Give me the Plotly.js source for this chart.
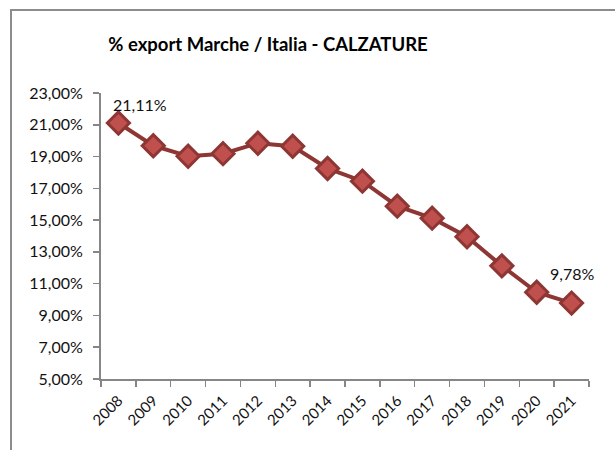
<!DOCTYPE html>
<html>
<head>
<meta charset="utf-8">
<script src="https://cdn.plot.ly/plotly-3.0.1.min.js"></script>
<style>
  html, body { margin: 0; padding: 0; background: #fff; }
  #wrap { position: relative; width: 615px; height: 450px; overflow: hidden; }
  #chart { position: absolute; left: 0; top: 0; width: 615px; height: 450px; }
  #frame { position: absolute; left: 10px; top: 9px; width: 700px; height: 500px;
           border-left: 2px solid #8c8c8c; border-top: 2px solid #8c8c8c; pointer-events: none; }
</style>
</head>
<body>
<div id="wrap">
  <div id="chart"></div>
  <div id="frame"></div>
</div>
<script>
const years = ["2008","2009","2010","2011","2012","2013","2014","2015","2016","2017","2018","2019","2020","2021"];
const shares = [21.11, 19.68, 19.02, 19.18, 19.84, 19.65, 18.25, 17.45, 15.88, 15.12, 13.95, 12.12, 10.46, 9.78];
const yTicks = [5, 7, 9, 11, 13, 15, 17, 19, 21, 23];
const labelled = [0, shares.length - 1];

const fmt = v => v.toFixed(2).replace('.', ',') + '%';

const trace = {
  x: years,
  y: shares,
  type: 'scatter',
  mode: 'lines+markers',
  line: { color: '#8e3634', width: 4 },
  marker: { symbol: 'diamond', size: 17, color: '#c0504d', line: { color: '#8e3634', width: 3 } },
  hoverinfo: 'skip'
};

const annShift = [[22, 19], [0, 30]];
const annotations = labelled.map((i, k) => ({
  x: i, y: shares[i], xref: 'x', yref: 'y',
  text: fmt(shares[i]), showarrow: false,
  xanchor: 'center', yanchor: 'middle',
  xshift: annShift[k][0], yshift: annShift[k][1],
  font: { family: 'Lato, sans-serif', size: 16, color: '#111' }
}));

const layout = {
  width: 615, height: 450,
  margin: { l: 101, r: 26, t: 93, b: 71 },
  paper_bgcolor: '#fff', plot_bgcolor: '#fff',
  separators: ',.',
  showlegend: false,
  title: {
    text: '<b>% export Marche / Italia - CALZATURE</b>',
    x: 268 / 615, xanchor: 'center', xref: 'container',
    y: 1 - 45 / 450, yanchor: 'middle', yref: 'container',
    font: { family: 'Lato, sans-serif', size: 18.5, color: '#000' }
  },
  font: { family: 'Lato, sans-serif', size: 15, color: '#111' },
  xaxis: {
    type: 'category',
    range: [-0.5, years.length - 0.5],
    tickson: 'boundaries',
    ticks: 'outside', ticklen: 6, tickwidth: 1.5, tickcolor: '#868686',
    showline: true, linecolor: '#868686', linewidth: 2,
    showgrid: false, zeroline: false,
    tickangle: -45,
    ticklabelstandoff: 5,
    tickfont: { family: 'Lato, sans-serif', size: 15, color: '#111' }
  },
  yaxis: {
    range: [5, 23],
    tickvals: yTicks,
    ticktext: yTicks.map(fmt),
    ticks: 'outside', ticklen: 6, tickwidth: 1.5, tickcolor: '#868686',
    showline: true, linecolor: '#868686', linewidth: 2,
    showgrid: false, zeroline: false,
    ticklabelstandoff: 7,
    tickfont: { family: 'Lato, sans-serif', size: 16, color: '#111' }
  },
  annotations: annotations
};

Plotly.newPlot('chart', [trace], layout, { displayModeBar: false, staticPlot: true });
</script>
</body>
</html>
